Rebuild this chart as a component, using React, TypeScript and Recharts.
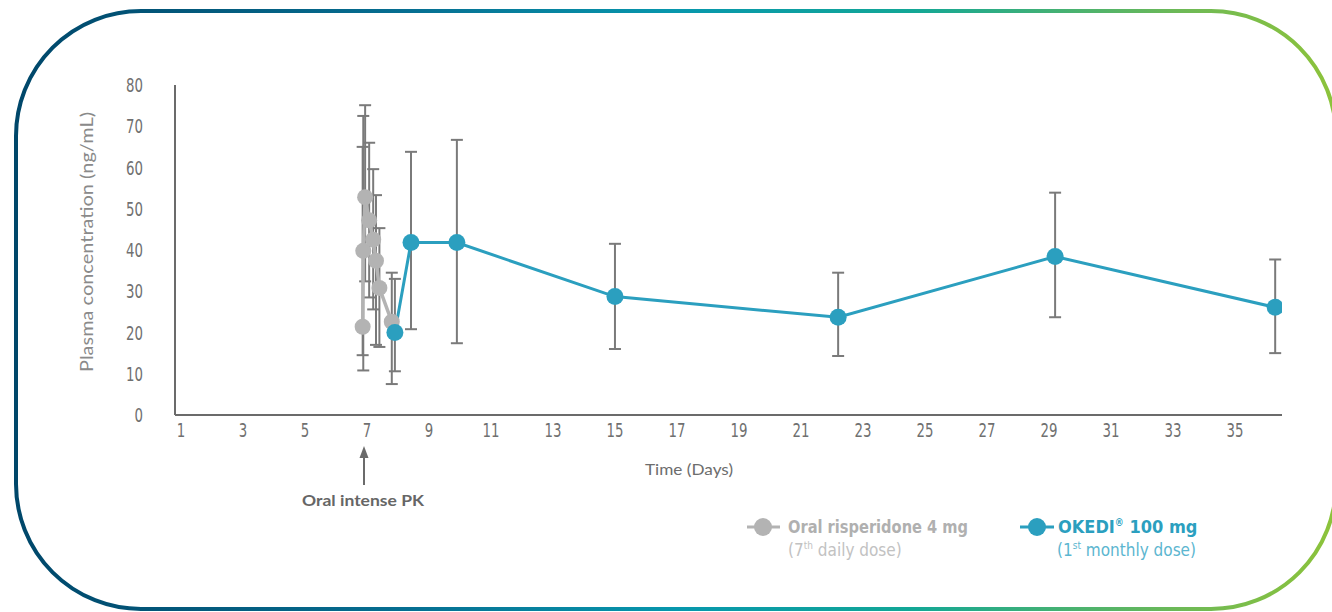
import { ComposedChart, Line, XAxis, YAxis, ErrorBar } from 'recharts';

// Day 7 oral risperidone intense PK sampling (grey)
const oralDays = [6.86, 6.88, 6.94, 7.07, 7.2, 7.29, 7.4, 7.8];
const oralConc = [21.4, 39.8, 52.8, 47.2, 42.5, 37.4, 30.8, 22.6];
const oralLow = [14.5, 10.8, 32.4, 28.5, 25.6, 17.0, 16.5, 7.5];
const oralHigh = [65.0, 72.5, 75.1, 66.0, 59.6, 53.3, 45.3, 34.5];

// OKEDI 100 mg, first monthly dose (blue)
const okediDays = [7.9, 8.42, 9.9, 15.0, 22.2, 29.2, 36.3];
const okediConc = [20.0, 41.8, 41.8, 28.7, 23.7, 38.4, 26.1];
const okediLow = [10.6, 20.8, 17.4, 16.0, 14.3, 23.7, 15.0];
const okediHigh = [33.0, 63.8, 66.7, 41.5, 34.5, 53.9, 37.7];

const xTicks = [1, 3, 5, 7, 9, 11, 13, 15, 17, 19, 21, 23, 25, 27, 29, 31, 33, 35];
const yTicks = [0, 10, 20, 30, 40, 50, 60, 70, 80];

const GREY = '#b3b3b3';
const BLUE = '#2b9fbf';
const BAR = '#7a7a7a';
const AXIS = '#6b6b6b';
const NARROW = '"DejaVu Sans Condensed", "Liberation Sans Narrow", sans-serif';
const SANS = 'Lato, "Open Sans", sans-serif';

const toRows = (days: number[], conc: number[], low: number[], high: number[]) =>
  days.map((d, i) => ({ day: d, conc: conc[i], err: [conc[i] - low[i], high[i] - conc[i]] }));

const oralData = toRows(oralDays, oralConc, oralLow, oralHigh);
const okediData = toRows(okediDays, okediConc, okediLow, okediHigh);

// squeezed tick text to mimic the condensed face of the original
const NarrowTick = (props: any) => {
  const { x, y, payload, textAnchor, vertical } = props;
  return (
    <text
      transform={`translate(${x},${y}) scale(0.76,1)`}
      textAnchor={textAnchor}
      dy={vertical ? '0.36em' : '0.71em'}
      fontFamily={NARROW}
      fontSize={19.5}
      fill="#707070"
    >
      {payload.value}
    </text>
  );
};

export default function App() {
  return (
    <div style={{ position: 'absolute', left: 0, top: 0, width: 1332, height: 612, background: '#fff', overflow: 'hidden' }}>
      <svg width={1332} height={612} style={{ position: 'absolute', left: 0, top: 0 }}>
        <defs>
          <linearGradient id="frame" x1="0" y1="0" x2="1" y2="0">
            <stop offset="0%" stopColor="#00476a" />
            <stop offset="30%" stopColor="#066f92" />
            <stop offset="50%" stopColor="#0797ad" />
            <stop offset="68%" stopColor="#13a796" />
            <stop offset="88%" stopColor="#6db957" />
            <stop offset="100%" stopColor="#8dc33a" />
          </linearGradient>
        </defs>
        <rect x={16} y={11} width={1320} height={598} rx={125} ry={125} fill="none" stroke="url(#frame)" strokeWidth={4} />

        {/* annotation below day 7 */}
        <line x1={364} y1={456} x2={364} y2={485} stroke="#6b6b6b" strokeWidth={2} />
        <polygon points="364,446 359.5,458 368.5,458" fill="#6b6b6b" />
        <text x={302} y={506} textLength={122} lengthAdjust="spacingAndGlyphs" fontFamily={SANS} fontWeight={700} fontSize={16} fill="#666">
          Oral intense PK
        </text>

        <text x={645} y={475} textLength={88} lengthAdjust="spacingAndGlyphs" fontFamily={SANS} fontSize={16} fill="#6d6d6d">
          Time (Days)
        </text>
        <text
          x={0}
          y={0}
          transform="translate(93,372) rotate(-90)"
          textLength={260}
          lengthAdjust="spacingAndGlyphs"
          fontFamily={SANS}
          fontSize={17}
          fill="#8a8a8a"
        >
          Plasma concentration (ng/mL)
        </text>

        {/* legend */}
        <line x1={747} y1={527} x2={780} y2={527} stroke={GREY} strokeWidth={3} />
        <circle cx={763} cy={527} r={9} fill={GREY} />
        <text x={788} y={533} textLength={180} lengthAdjust="spacingAndGlyphs" fontFamily={NARROW} fontWeight={700} fontSize={18} fill="#b0b0b0">
          Oral risperidone 4 mg
        </text>
        <text x={788} y={556} fontFamily={NARROW} fontSize={17} fill="#c2c2c2">
          (7<tspan fontSize={10} dy={-7}>th</tspan>
          <tspan dy={7}> daily dose)</tspan>
        </text>

        <line x1={1020} y1={527} x2={1054} y2={527} stroke={BLUE} strokeWidth={3} />
        <circle cx={1037} cy={527} r={9} fill={BLUE} />
        <text x={1058} y={533} fontFamily={NARROW} fontWeight={700} fontSize={18} fill={BLUE}>
          OKEDI<tspan fontSize={10} dy={-7}>®</tspan>
          <tspan dy={7}> 100 mg</tspan>
        </text>
        <text x={1057} y={556} fontFamily={NARROW} fontSize={17} fill="#5cb6d0">
          (1<tspan fontSize={10} dy={-7}>st</tspan>
          <tspan dy={7}> monthly dose)</tspan>
        </text>
      </svg>

      <div style={{ position: 'absolute', left: 0, top: 0 }}>
        <ComposedChart width={1332} height={612} margin={{ top: 85, right: 50, left: 115, bottom: 167 }}>
          <XAxis
            dataKey="day"
            type="number"
            domain={[0.806, 36.52]}
            ticks={xTicks}
            allowDataOverflow
            tickLine={false}
            tickMargin={2}
            axisLine={{ stroke: AXIS, strokeWidth: 2 }}
            tick={<NarrowTick />}
            interval={0}
          />
          <YAxis
            type="number"
            domain={[0, 80]}
            ticks={yTicks}
            width={60}
            tickLine={false}
            tickMargin={26}
            axisLine={{ stroke: AXIS, strokeWidth: 2 }}
            tick={<NarrowTick vertical />}
            interval={0}
          />
          <Line
            data={oralData}
            dataKey="conc"
            type="linear"
            stroke={GREY}
            strokeWidth={3.5}
            dot={{ r: 8, fill: GREY, stroke: GREY, strokeWidth: 0 }}
            activeDot={false}
            isAnimationActive={false}
          >
            <ErrorBar dataKey="err" direction="y" width={6} stroke={BAR} strokeWidth={2} isAnimationActive={false} />
          </Line>
          <Line
            data={okediData}
            dataKey="conc"
            type="linear"
            stroke={BLUE}
            strokeWidth={3}
            dot={{ r: 8.5, fill: BLUE, stroke: BLUE, strokeWidth: 0 }}
            activeDot={false}
            isAnimationActive={false}
          >
            <ErrorBar dataKey="err" direction="y" width={6} stroke={BAR} strokeWidth={2} isAnimationActive={false} />
          </Line>
        </ComposedChart>
      </div>
    </div>
  );
}
